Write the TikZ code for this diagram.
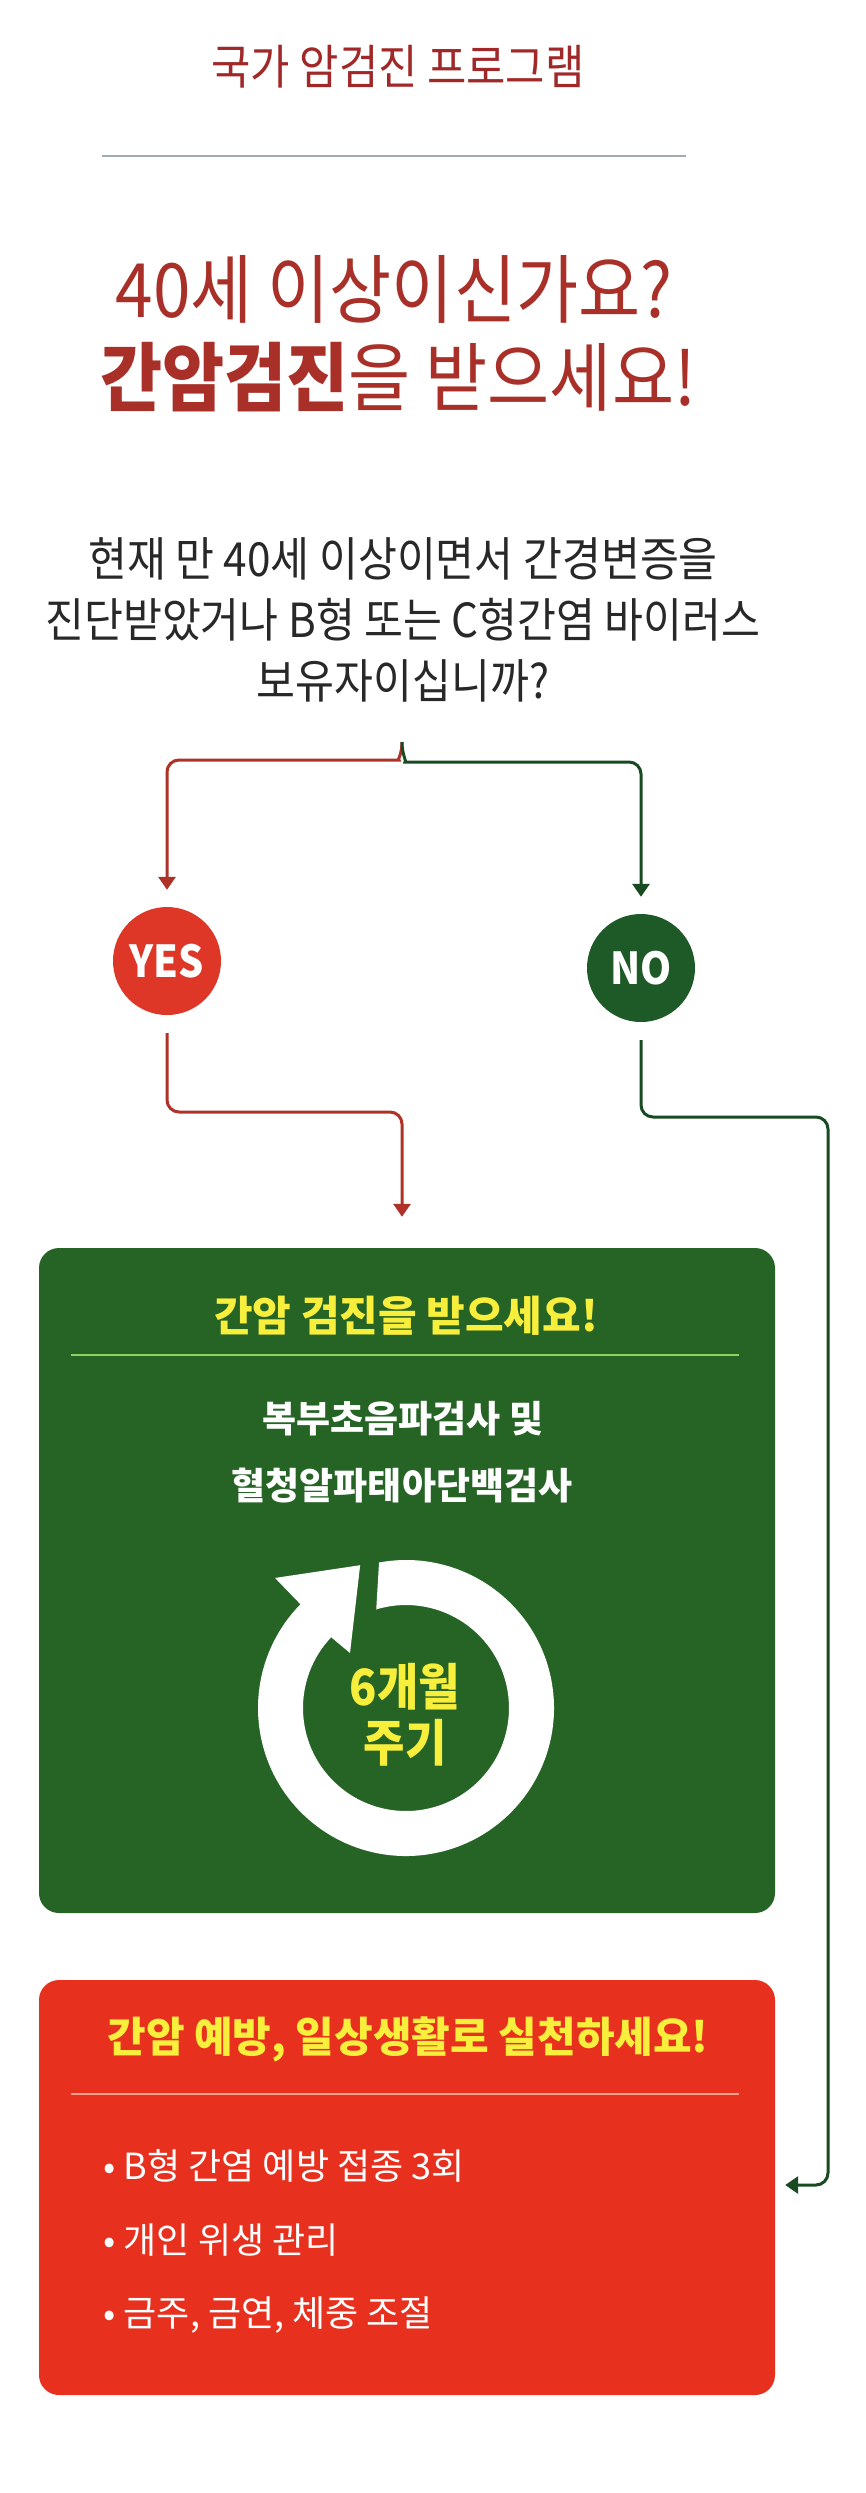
\documentclass[tikz,border=0pt]{standalone}
\usepackage{fontspec}
\setmainfont{Noto Sans CJK KR}
\newfontfamily\narrowkr{Noto Sans CJK KR}[FakeStretch=0.9]
\usepackage{tikz}
\usetikzlibrary{arrows.meta, positioning, calc}
\definecolor{titlered}{RGB}{160, 40, 40}
\definecolor{headred}{RGB}{168, 48, 40}
\definecolor{qtext}{RGB}{40, 40, 40}
\definecolor{linered}{RGB}{175, 50, 40}
\definecolor{linegreen}{RGB}{25, 75, 35}
\definecolor{yesred}{RGB}{222, 55, 40}
\definecolor{nogreen}{RGB}{30, 90, 40}
\definecolor{boxgreen}{RGB}{38, 100, 38}
\definecolor{boxred}{RGB}{232, 48, 30}
\definecolor{hiyellow}{RGB}{248, 238, 60}
\definecolor{rulegreen}{RGB}{140, 210, 100}
\definecolor{rulepink}{RGB}{245, 160, 140}
\definecolor{rulegray}{RGB}{160, 170, 180}

\tikzset{
    redline/.style={draw=linered, line width=3pt, rounded corners=12pt, -{Triangle[width=17pt, length=13pt]}},
    greenline/.style={draw=linegreen, line width=3pt, rounded corners=12pt, -{Triangle[width=17pt, length=13pt]}},
    answer/.style={circle, minimum size=108pt, inner sep=0pt, text=white, font=\narrowkr\fontsize{44}{44}\bfseries},
    infobox/.style={rounded corners=20pt, minimum width=736pt, inner sep=0pt},
    boxhead/.style={text=hiyellow, font=\fontsize{42}{42}\bfseries},
    boxtext/.style={text=white, font=\fontsize{37}{37}\bfseries},
    bullet/.style={anchor=west, text=white, font=\fontsize{36}{36}\selectfont}
}

\begin{document}
\begin{tikzpicture}[x=1pt, y=1pt]
    \useasboundingbox (0,0) rectangle (866,-2493);
    \fill[white] (0,0) rectangle (866,-2493);

    \node[text=titlered, font=\narrowkr\fontsize{47.5}{47.5}\selectfont] (title) at (398,-67) {국가 암검진 프로그램};
    \draw[rulegray, line width=1.5pt] (102,-156) -- (686,-156);
    \node[text=headred, font=\narrowkr\fontsize{75}{75}\selectfont] (head1) at (394,-289) {40세 이상이신가요?};
    \node[text=headred, font=\narrowkr\fontsize{75}{75}\selectfont] (head2) at (398,-377) {\textbf{간암검진}을 받으세요!};
    \node[text=qtext, align=center, font=\narrowkr\fontsize{47}{61}\selectfont] (question) at (403,-620) {현재 만 40세 이상이면서 간경변증을\\진단받았거나 B형 또는 C형간염 바이러스\\보유자이십니까?};

    \node[answer, fill=yesred] (yes) at (167,-961) {YES};
    \node[answer, fill=nogreen] (no) at (641,-968) {NO};

    \coordinate (fork) at (402,-742);
    \draw[redline, shorten >=17pt] (fork) .. controls (402,-755) and (397,-760) .. (387,-760) -| (yes.north);
    \draw[greenline, shorten >=17pt] (fork) .. controls (402,-755) and (407,-762) .. (417,-762) -| (no.north);

    \node[infobox, fill=boxgreen, minimum height=665pt] (checkbox) at (407,-1580.5) {};
    \node[boxhead] (checkhead) at (406,-1316) {간암 검진을 받으세요!};
    \draw[rulegreen, line width=1.5pt] (71,-1355) -- (739,-1355);
    \node[boxtext] (test1) at (403,-1419) {복부초음파검사 및};
    \node[boxtext] (test2) at (402,-1486) {혈청알파태아단백검사};
    \begin{scope}[shift={(406,-1708)}]
        \fill[white] (100.5:148) arc[start angle=100.5, end angle=-224.5, radius=148]
            -- (135.2:184.6) -- (107.8:150) -- (135.5:78.5) -- (136.6:103)
            arc[start angle=-223.4, end angle=106.8, radius=103] -- cycle;
    \end{scope}
    \node[text=hiyellow, align=center, font=\narrowkr\fontsize{50}{56}\bfseries] (cycle) at (405,-1715) {6개월\\주기};

    \node[infobox, fill=boxred, minimum height=415pt] (carebox) at (407,-2187.5) {};
    \node[boxhead] (carehead) at (408,-2039) {간암 예방, 일상생활로 실천하세요!};
    \draw[rulepink, line width=1.5pt] (71,-2094) -- (739,-2094);
    \node[bullet] (care1) at (100,-2166) {• B형 간염 예방 접종 3회};
    \node[bullet] (care2) at (100,-2240) {• 개인 위생 관리};
    \node[bullet] (care3) at (100,-2315) {• 금주, 금연, 체중 조절};

    \coordinate (yesbend) at (402,-1112);
    \draw[redline, shorten <=18pt, shorten >=31pt] (yes.south) |- (yesbend) -- (yesbend |- checkbox.north);
    \coordinate (nobend) at (828,-1117);
    \coordinate (noturn) at (828,-2185);
    \draw[greenline, shorten <=18pt, shorten >=10pt] (no.south) |- (nobend) -- (noturn) -- (noturn -| carebox.east);
\end{tikzpicture}
\end{document}
